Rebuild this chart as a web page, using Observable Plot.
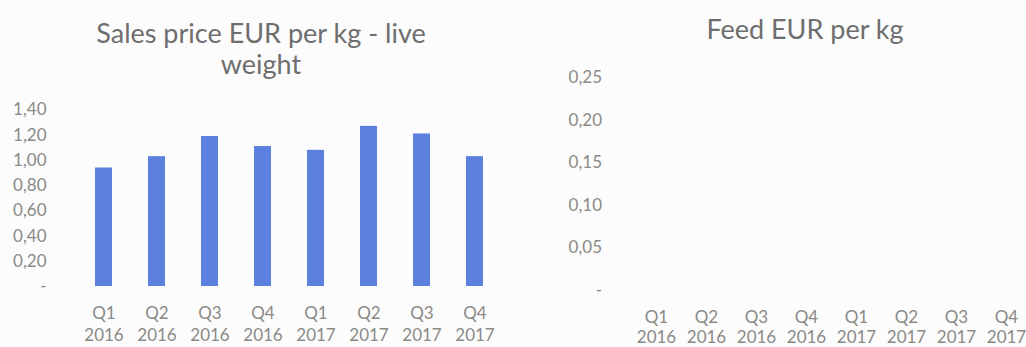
<!DOCTYPE html>
<html><head><meta charset="utf-8">
<script src="https://cdn.jsdelivr.net/npm/d3@7"></script>
<script src="https://cdn.jsdelivr.net/npm/@observablehq/plot@0.6"></script>
<style>
html,body{margin:0;padding:0;background:#fcfcfc;overflow:hidden}
#wrap{position:relative;width:1026px;height:347px;overflow:hidden;font-family:Lato,sans-serif}
.title{position:absolute;color:#6e6e6e;font-size:27px;line-height:30.7px;text-align:center;white-space:nowrap;transform:translateX(-50%)}
.plot{position:absolute;top:0}
</style></head><body><div id="wrap">
<div class="title" style="left:261px;top:18px">Sales price EUR per kg - live<br>weight</div>
<div class="title" style="left:805px;top:14px">Feed EUR per kg</div>
</div>
<script>
const quarters = ["Q1","Q2","Q3","Q4","Q1","Q2","Q3","Q4"];
const years = ["2016","2016","2016","2016","2017","2017","2017","2017"];
const salesPrice = [0.94, 1.03, 1.19, 1.11, 1.08, 1.27, 1.21, 1.03];
const feedPrice = []; // no values plotted in the source
const salesTicks = [0, 0.2, 0.4, 0.6, 0.8, 1.0, 1.2, 1.4];
const feedTicks = [0, 0.05, 0.10, 0.15, 0.20, 0.25];

const categories = quarters.map((q, i) => q + "\n" + years[i]);
const fmt = d => d === 0 ? "-" : d.toFixed(2).replace(".", ",");
const tickColor = "#8a8a86";
const barColor = "#5b80de";

const wrap = document.getElementById("wrap");

const left = Plot.plot({
  width: 540, height: 347,
  marginTop: 109.5, marginBottom: 61, marginLeft: 76, marginRight: 38,
  style: {background: "transparent", fontFamily: "Lato, sans-serif", fontSize: "17px", color: tickColor, overflow: "visible"},
  x: {domain: categories, paddingInner: 0.68, paddingOuter: 0.34, label: null},
  y: {domain: [0, 1.4], label: null},
  marks: [
    Plot.axisY({ticks: salesTicks, tickFormat: fmt, tickSize: 0, tickPadding: 30, label: null, fontSize: 17}),
    Plot.axisX({tickSize: 0, tickPadding: 18, lineHeight: 1.24, label: null, fontSize: 17}),
    Plot.barY(categories.map((c, i) => ({c, v: salesPrice[i]})), {x: "c", y: "v", fill: barColor})
  ]
});
left.classList.add("plot");
left.style.left = "0px";
wrap.appendChild(left);

const right = Plot.plot({
  width: 520, height: 347,
  marginTop: 77.5, marginBottom: 57, marginLeft: 90.5, marginRight: 29.5,
  style: {background: "transparent", fontFamily: "Lato, sans-serif", fontSize: "17px", color: tickColor, overflow: "visible"},
  x: {domain: categories, paddingInner: 0.68, paddingOuter: 0.34, label: null},
  y: {domain: [0, 0.25], label: null},
  marks: [
    Plot.axisY({ticks: feedTicks, tickFormat: fmt, tickSize: 0, tickPadding: 29, label: null, fontSize: 17}),
    Plot.axisX({tickSize: 0, tickPadding: 19, lineHeight: 1.15, label: null, fontSize: 17}),
    Plot.barY(feedPrice, {x: "c", y: "v", fill: barColor})
  ]
});
right.classList.add("plot");
right.style.left = "540px";
wrap.appendChild(right);
</script>
</body></html>
